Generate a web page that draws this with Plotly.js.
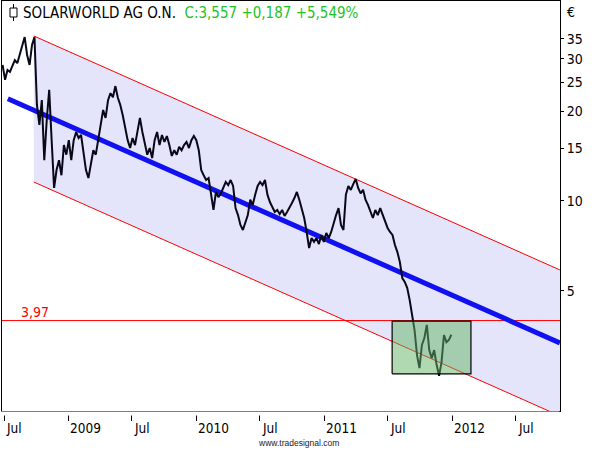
<!DOCTYPE html>
<html>
<head>
<meta charset="utf-8">
<script src="https://cdn.plot.ly/plotly-3.0.1.min.js"></script>
<style>html,body{margin:0;padding:0;background:#fff;} #chart{width:595px;height:450px;}</style>
</head>
<body>
<div id="chart"></div>
<script>
// ---------- data ----------
const priceStart = '2008-06-27';   // first weekly close
const priceStepDays = 7;
const priceValues = [
 28.6,25.5,27.5,27.1,28.4,29.7,29.0,30.9,33.4,35.5,30.9,28.6,33.4,35.5,21.0,18.0,21.8,13.7,18.7,23.6,
 16.0,11.06,12.7,13.7,12.2,15.4,14.3,16.0,13.7,16.0,17.04,16.27,16.65,14.8,12.7,11.94,13.52,14.8,14.3,16.27,
 18.0,20.2,19.0,21.8,23.0,22.3,24.3,22.2,21.0,19.4,17.58,16.0,15.06,16.27,15.4,17.3,19.0,17.04,15.4,14.3,
 15.06,13.94,16.0,17.04,15.4,16.65,15.78,16.52,15.4,14.16,14.8,14.3,15.2,14.8,15.4,15.78,15.06,16.0,16.52,16.0,
 14.8,12.7,12.2,11.76,11.94,10.5,9.33,10.72,10.3,10.6,11.06,11.58,11.3,11.76,11.23,9.47,8.97,8.31,7.99,8.50,
 8.97,10.1,9.7,10.5,11.23,11.58,11.3,11.76,10.5,9.92,9.55,9.19,9.33,9.04,9.33,8.91,9.19,9.47,9.85,10.23,
 10.72,10.1,9.47,8.77,7.87,6.95,7.51,7.29,7.51,7.17,7.69,7.29,7.81,7.51,7.87,8.50,8.97,9.47,8.31,7.99,
 10.5,11.23,10.9,11.40,11.85,11.06,10.6,10.9,10.1,9.7,9.19,8.77,9.33,8.97,9.47,9.04,8.50,8.12,7.87,7.69,
 7.12,6.74,6.24,5.51,5.35,5.11,4.66,4.14,3.69,3.04,2.75,3.29,3.47,3.84,3.16,2.97,3.16,2.82,2.59,2.88,
 3.55,3.36,3.42,3.557
];

// regression channel
const channelDates = ['2008-09-24', '2012-11-04'];
const channelUpper = [35.8, 5.87];
const channelLower = [11.58, 1.90];
const trendDates = ['2008-07-12', '2012-11-04'];
const trendValues = [22.04, 3.34];

// horizontal level
const levelValue = 3.97;
const levelLabel = '3,97';
const levelDates = ['2008-06-25', '2012-11-05'];

// consolidation box
const boxDates = ['2011-07-14', '2012-02-24'];
const boxLow = 2.63;
const boxHigh = 3.95;

// axes
const xTickDates = ['2008-07-01','2009-01-01','2009-07-01','2010-01-01','2010-07-01','2011-01-01','2011-07-01','2012-01-01','2012-07-01'];
const xTickLabels = ['Jul','2009','Jul','2010','Jul','2011','Jul','2012','Jul'];
const yTickVals = [5, 10, 15, 20, 25, 30, 35];
const yTickLabels = ['5','10','15','20','25','30','35'];

const titleName = 'SOLARWORLD AG O.N.';
const titleQuote = 'C:3,557 +0,187 +5,549%';

// ---------- layout helpers (pixel -> paper) ----------
const L = 2, R = 560, T = 1, B = 411;
const px = x => (x - L) / (R - L);
const py = y => 1 - (y - T) / (B - T);

const FONT = '"DejaVu Sans Condensed", "Liberation Sans", Arial, sans-serif';

const traces = [
  { x: channelDates, y: channelLower, type: 'scatter', mode: 'lines',
    line: { color: '#ff0000', width: 1 }, hoverinfo: 'skip' },
  { x: channelDates, y: channelUpper, type: 'scatter', mode: 'lines',
    line: { color: '#ff0000', width: 1 }, fill: 'tonexty', fillcolor: '#e4e4fa', hoverinfo: 'skip' },
  { x: levelDates, y: [levelValue, levelValue], type: 'scatter', mode: 'lines',
    line: { color: '#ff0000', width: 1 }, hoverinfo: 'skip' },
  { x: trendDates, y: trendValues, type: 'scatter', mode: 'lines',
    line: { color: '#1010f0', width: 5 }, hoverinfo: 'skip' },
  { x0: priceStart, dx: priceStepDays * 86400000, y: priceValues, type: 'scatter', mode: 'lines',
    line: { color: '#080818', width: 2 } },
  { x: [boxDates[0], boxDates[1], boxDates[1], boxDates[0], boxDates[0]],
    y: [boxLow, boxLow, boxHigh, boxHigh, boxLow], type: 'scatter', mode: 'lines',
    fill: 'toself', fillcolor: 'rgba(100,180,100,0.5)', line: { color: '#000', width: 1.2 }, hoverinfo: 'skip' }
];

const annotations = xTickDates.map((d, i) => ({
  x: d, xref: 'x', y: py(418), yref: 'paper', text: xTickLabels[i], showarrow: false,
  xanchor: 'left', yanchor: 'top', xshift: 0, font: { family: FONT, size: 13.5, color: '#000' }
}));
annotations.push({
  x: '2008-09-27', xref: 'x', y: Math.log10(levelValue), yref: 'y', text: levelLabel, showarrow: false,
  xanchor: 'center', yanchor: 'bottom', yshift: -1, font: { family: FONT, size: 14, color: '#ff0000' }
});
annotations.push({
  x: px(565), xref: 'paper', y: py(12), yref: 'paper', text: '€', showarrow: false,
  xanchor: 'left', yanchor: 'middle', font: { family: FONT, size: 14, color: '#000' }
});
annotations.push({
  x: px(298), xref: 'paper', y: py(443), yref: 'paper', text: 'www.tradesignal.com', showarrow: false,
  xanchor: 'center', yanchor: 'middle', font: { family: '"Liberation Sans", Arial, sans-serif', size: 8.5, color: '#222' }
});

const shapes = [
  // candlestick icon next to the title
  { type: 'line', xref: 'paper', yref: 'paper', x0: px(13.5), x1: px(13.5), y0: py(4), y1: py(21), line: { color: '#000', width: 1 } },
  { type: 'rect', xref: 'paper', yref: 'paper', x0: px(10), x1: px(17), y0: py(8), y1: py(17), fillcolor: '#fff', line: { color: '#000', width: 1 } },
  // gap between the plot frame and the x tick marks
  { type: 'rect', xref: 'paper', yref: 'paper', x0: px(0), x1: px(559.4), y0: py(411.6), y1: py(415.5), fillcolor: '#fff', line: { width: 0 }, layer: 'above' }
];

const layout = {
  width: 595, height: 450,
  margin: { l: L, r: 595 - R, t: T, b: 450 - B, pad: 0 },
  paper_bgcolor: '#fff', plot_bgcolor: '#fff',
  showlegend: false,
  title: {
    text: titleName + '&nbsp;&nbsp;<span style="color:#22c322">' + titleQuote + '</span>',
    x: 23 / 595, xanchor: 'left', xref: 'container',
    y: 1 - 12.7 / 450, yanchor: 'middle', yref: 'container',
    font: { family: FONT, size: 15, color: '#000' }
  },
  xaxis: {
    type: 'date', range: ['2008-06-25 07:00', '2012-11-04 05:00'],
    showgrid: false, zeroline: false,
    showline: true, mirror: true, linecolor: '#000', linewidth: 1,
    tickmode: 'array', tickvals: xTickDates, ticktext: xTickLabels, showticklabels: false,
    ticks: 'outside', ticklen: 9, tickcolor: '#000', tickwidth: 1
  },
  yaxis: {
    type: 'log', range: [0.2953, 1.6711], side: 'right',
    showgrid: false, zeroline: false,
    showline: true, mirror: true, linecolor: '#000', linewidth: 1,
    tickmode: 'array', tickvals: yTickVals, ticktext: yTickLabels,
    ticks: 'outside', ticklen: 3, tickcolor: '#000', tickwidth: 1,
    tickfont: { family: FONT, size: 14, color: '#000' }
  },
  annotations: annotations,
  shapes: shapes,
  hovermode: false
};

Plotly.newPlot('chart', traces, layout, { staticPlot: true, displayModeBar: false });
</script>
</body>
</html>
